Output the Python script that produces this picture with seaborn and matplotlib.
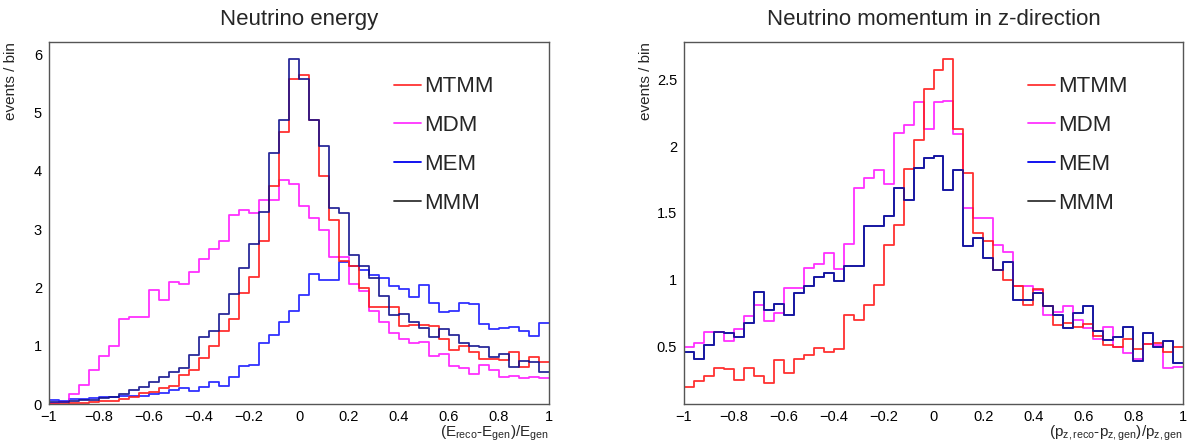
import numpy as np
import pandas as pd
import matplotlib
matplotlib.use("Agg")
import matplotlib.pyplot as plt
import seaborn as sns
from matplotlib.lines import Line2D
from matplotlib.ticker import MultipleLocator

# 50 bins of width 0.04 on the relative resolution axis
n_bins = 50
x_range = (-1.0, 1.0)
edges = np.linspace(x_range[0], x_range[1], n_bins + 1)
centers = 0.5 * (edges[:-1] + edges[1:])

models = ["MTMM", "MDM", "MEM", "MMM"]
# first entry is drawn last (on top)
draw_order = ["MMM", "MTMM", "MDM", "MEM"]

# Neutrino energy resolution, events per bin
energy_mtmm = [0.00, 0.00, 0.01, 0.02, 0.03, 0.05, 0.06, 0.09, 0.12, 0.19,
               0.20, 0.27, 0.31, 0.50, 0.58, 0.79, 0.99, 1.25, 1.45, 1.91,
               2.18, 2.79, 3.74, 4.67, 5.57, 5.65, 4.87, 3.91, 3.16, 2.45,
               2.36, 1.99, 1.67, 1.66, 1.66, 1.33, 1.36, 1.35, 1.33, 1.12,
               0.93, 1.00, 0.90, 0.77, 0.77, 0.76, 0.90, 0.64, 0.80, 0.72]
energy_mdm = [0.02, 0.03, 0.17, 0.33, 0.58, 0.82, 0.99, 1.45, 1.50, 1.50,
              1.95, 1.79, 2.10, 2.05, 2.26, 2.49, 2.66, 2.79, 3.25, 3.33,
              3.27, 3.50, 3.50, 3.85, 3.78, 3.39, 3.19, 2.98, 2.52, 2.52,
              2.05, 1.93, 1.60, 1.40, 1.22, 1.12, 1.05, 1.07, 0.83, 0.85,
              0.65, 0.61, 0.52, 0.67, 0.59, 0.47, 0.48, 0.45, 0.47, 0.44]
energy_mem = [0.07, 0.05, 0.09, 0.09, 0.10, 0.12, 0.12, 0.13, 0.14, 0.14,
              0.17, 0.19, 0.24, 0.27, 0.22, 0.30, 0.37, 0.31, 0.46, 0.65,
              0.67, 1.05, 1.19, 1.40, 1.60, 1.87, 2.23, 2.13, 2.13, 2.44,
              2.37, 2.30, 2.22, 2.16, 2.03, 1.98, 1.83, 2.04, 1.73, 1.57,
              1.59, 1.73, 1.71, 1.38, 1.28, 1.30, 1.32, 1.25, 1.17, 1.39]
energy_mmm = [0.04, 0.04, 0.06, 0.07, 0.07, 0.10, 0.12, 0.17, 0.24, 0.29,
              0.37, 0.47, 0.55, 0.62, 0.84, 1.15, 1.26, 1.55, 1.89, 2.34,
              2.75, 3.29, 4.31, 4.87, 5.92, 5.58, 4.87, 4.42, 3.37, 3.27,
              2.55, 2.36, 2.16, 1.85, 1.53, 1.55, 1.40, 1.30, 1.15, 1.28,
              1.18, 1.05, 0.99, 0.97, 0.81, 0.86, 0.64, 0.73, 0.72, 0.55]

# Neutrino longitudinal momentum resolution, events per bin
pz_mtmm = [0.20, 0.24, 0.28, 0.34, 0.33, 0.25, 0.34, 0.28, 0.23, 0.40,
           0.30, 0.41, 0.44, 0.49, 0.46, 0.48, 0.74, 0.70, 0.81, 0.96,
           1.26, 1.41, 1.83, 2.05, 2.43, 2.57, 2.65, 2.13, 1.80, 1.35,
           1.29, 1.07, 1.00, 0.95, 0.81, 0.93, 0.80, 0.66, 0.68, 0.65,
           0.67, 0.58, 0.51, 0.50, 0.555, 0.48, 0.52, 0.53, 0.46, 0.50]
pz_mdm = [0.50, 0.53, 0.61, 0.61, 0.54, 0.63, 0.73, 0.81, 0.69, 0.75,
          0.94, 0.94, 1.09, 1.12, 1.20, 1.08, 1.27, 1.69, 1.76, 1.82,
          1.72, 2.10, 2.16, 2.33, 2.13, 2.33, 2.34, 2.09, 1.54, 1.46,
          1.46, 1.26, 1.21, 0.95, 0.95, 0.92, 0.74, 0.76, 0.80, 0.70,
          0.64, 0.56, 0.65, 0.50, 0.45, 0.41, 0.52, 0.51, 0.34, 0.345]
pz_mmm = [0.46, 0.41, 0.51, 0.61, 0.60, 0.57, 0.68, 0.91, 0.77, 0.82,
          0.74, 0.90, 0.95, 1.02, 1.05, 0.99, 1.10, 1.10, 1.40, 1.40,
          1.48, 1.69, 1.60, 1.84, 1.91, 1.93, 1.67, 1.82, 1.25, 1.31,
          1.16, 1.07, 1.13, 0.85, 0.85, 0.90, 0.80, 0.74, 0.64, 0.75,
          0.80, 0.62, 0.55, 0.575, 0.65, 0.39, 0.60, 0.50, 0.545, 0.38]
pz_mem = list(pz_mmm)

line_colors = {"MTMM": "#ff1a1a", "MDM": "#ff1aff", "MEM": "#1a1aff", "MMM": "#12128f"}
legend_colors = {"MTMM": "#ff3333", "MDM": "#ff33ff", "MEM": "#0000ee", "MMM": "#333333"}

sns.set_theme(style="white")
plt.rcParams["font.family"] = ["Liberation Sans", "DejaVu Sans"]
plt.rcParams["mathtext.fontset"] = "custom"
plt.rcParams["mathtext.rm"] = "Liberation Sans"
plt.rcParams["mathtext.it"] = "Liberation Sans"

fig = plt.figure(figsize=(11.95, 4.44), dpi=100)
ax_e = fig.add_axes([49 / 1195, 40 / 444, 500 / 1195, 362 / 444])
ax_p = fig.add_axes([684 / 1195, 40 / 444, 499 / 1195, 362 / 444])


def long_table(series):
    frames = [pd.DataFrame({"x": centers, "w": vals, "model": name})
              for name, vals in series.items()]
    return pd.concat(frames, ignore_index=True)


def tick_text(v, pos):
    v = round(v, 6)
    if v == 0:
        return "0"
    return f"{v:g}".replace("-", "\u2212")


def draw_panel(ax, series, ylim, ymajor, yminor, title, xlabel):
    df = long_table(series)
    sns.histplot(data=df, x="x", weights="w", hue="model", hue_order=draw_order,
                 bins=n_bins, binrange=x_range, element="step", fill=False,
                 palette=line_colors, linewidth=1.3, alpha=0.9, legend=False, ax=ax)
    ax.set_xlim(*x_range)
    ax.set_ylim(*ylim)
    ax.xaxis.set_major_locator(MultipleLocator(0.2))
    ax.xaxis.set_minor_locator(MultipleLocator(0.04))
    ax.yaxis.set_major_locator(MultipleLocator(ymajor))
    ax.yaxis.set_minor_locator(MultipleLocator(yminor))
    ax.xaxis.set_major_formatter(plt.FuncFormatter(tick_text))
    ax.yaxis.set_major_formatter(plt.FuncFormatter(tick_text))
    ax.tick_params(axis="both", which="both", direction="in", colors="black",
                   labelsize=10.5, top=False, right=False)
    ax.tick_params(axis="x", which="major", length=11, width=1, pad=4)
    ax.tick_params(axis="x", which="minor", length=5.5, width=1)
    ax.tick_params(axis="y", which="major", length=15, width=1, pad=5)
    ax.tick_params(axis="y", which="minor", length=8, width=1)
    for sp in ax.spines.values():
        sp.set_color("#555555")
        sp.set_linewidth(1.0)
    ax.set_title(title, fontsize=16, pad=12)
    ax.set_xlabel(xlabel, fontsize=11, loc="right", labelpad=0)
    ax.set_ylabel("events / bin", fontsize=11, loc="top")
    ax.yaxis.set_label_coords(-0.062, 1.0)
    ax.set_facecolor("white")
    handles = [Line2D([], [], color=legend_colors[m], lw=1.3) for m in models]
    ax.legend(handles, models, loc="upper left", bbox_to_anchor=(0.69, 0.905),
              frameon=False, fontsize=16, handlelength=1.2, handletextpad=0.15,
              labelspacing=0.8, borderaxespad=0, borderpad=0)


draw_panel(ax_e,
           {"MTMM": energy_mtmm, "MDM": energy_mdm, "MEM": energy_mem, "MMM": energy_mmm},
           (0, 6.21), 1, 0.2, "Neutrino energy",
           r"(E$_{\rm reco}$-E$_{\rm gen}$)/E$_{\rm gen}$")
draw_panel(ax_p,
           {"MTMM": pz_mtmm, "MDM": pz_mdm, "MEM": pz_mem, "MMM": pz_mmm},
           (0.07, 2.78), 0.5, 0.1, "Neutrino momentum in z-direction",
           r"(p$_{\rm z,reco}$-p$_{\rm z,gen}$)/p$_{\rm z,gen}$")

fig.savefig("out.png", dpi=100, facecolor="white")
